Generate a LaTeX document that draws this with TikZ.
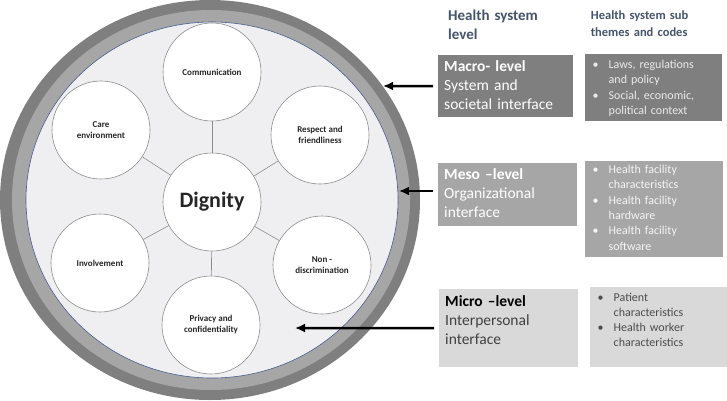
\documentclass[tikz,border=0pt]{standalone}
\usepackage{fontspec}
\setmainfont{Carlito}
\usetikzlibrary{arrows.meta,positioning}
\definecolor{ringdark}{HTML}{7F7F7F}
\definecolor{ringlight}{HTML}{A6A6A6}
\definecolor{innerfill}{HTML}{EFEFF1}
\definecolor{innerline}{HTML}{4A5C8C}
\definecolor{circline}{HTML}{8C8C8C}
\definecolor{headblue}{HTML}{44546A}
\definecolor{macrofill}{HTML}{7F7F7F}
\definecolor{mesofill}{HTML}{A6A6A6}
\definecolor{microfill}{HTML}{D9D9D9}
\newcommand{\codebul}{\makebox[17.5pt][l]{\hspace{1.5pt}\textbullet}}
\newcommand{\codeind}{\hspace*{17.5pt}}

\begin{document}
\begin{tikzpicture}[
    x=1pt, y=-1pt,
    theme/.style={circle, draw=circline, fill=white, line width=0.6pt, minimum size=98pt, inner sep=0pt, align=center, text=black!85, font=\fontsize{9}{11}\selectfont\bfseries},
    core/.style={theme, font=\fontsize{22}{26}\selectfont\bfseries},
    spoke/.style={draw=circline, line width=0.6pt},
    header/.style={anchor=base west, inner sep=0pt, text width=140pt, align=left, text=headblue},
    levelbox/.style={anchor=north west, inner xsep=6pt, inner ysep=0pt, align=left, font=\fontsize{15.5}{19}\selectfont},
    codebox/.style={anchor=north west, inner xsep=6pt, inner ysep=0pt, align=left, font=\fontsize{12}{15.3}\selectfont},
    pointer/.style={-{Latex[length=10pt,width=9pt]}, line width=2.5pt, shorten <=5pt}
]
\useasboundingbox (0,0) rectangle (727,400);

% Rings
\fill[ringdark] (210,200) ellipse [x radius=210, y radius=200];
\fill[ringlight] (211,200) ellipse [x radius=199, y radius=190];
\filldraw[fill=innerfill, draw=innerline, line width=0.6pt] (212,200) ellipse [x radius=186, y radius=178];

% Themes
\node[core] (dignity) at (212,202) {Dignity};
\node[theme] (comm) at (212,72) {Communication};
\node[theme] (care) at (101,130) {Care\\environment};
\node[theme] (respect) at (320,135) {Respect and\\friendliness};
\node[theme] (involve) at (100,263) {Involvement};
\node[theme] (nondisc) at (322,265) {Non -\\discrimination};
\node[theme] (privacy) at (211,325) {Privacy and\\confidentiality};

% Spokes
\foreach \t in {comm,care,respect,involve,nondisc,privacy}
    \draw[spoke] (dignity) -- (\t);

% Headers
\node[header, font=\fontsize{15}{18.3}\selectfont\bfseries] (headlevel) at (448,20.7) {Health system\\level};
\node[header, font=\fontsize{12.5}{17.7}\selectfont\bfseries] (headcode) at (590.7,19) {Health system sub\\themes and codes};

% Levels
\node[levelbox, fill=macrofill, text=white, text width=123pt, text height=16.7pt, text depth=45.3pt] (macro) at (438,55)
    {\textbf{Macro- level}\\System and\\societal interface};
\node[levelbox, fill=mesofill, text=white, text width=127pt, text height=16.3pt, text depth=46.7pt] (meso) at (438,163)
    {\textbf{Meso –level}\\Organizational\\interface};
\node[levelbox, fill=microfill, text=black!75, text width=127pt, text height=17.7pt, text depth=60.3pt] (micro) at (439,289)
    {\textcolor{black}{\textbf{Micro –level}}\\Interpersonal\\interface};

% Codes
\node[codebox, fill=macrofill, text=black!8, text width=125pt, text height=14.3pt, text depth=52.7pt] (macrocode) at (585,54)
    {\codebul Laws, regulations\\\codeind and policy\\\codebul Social, economic,\\\codeind political context};
\node[codebox, fill=mesofill, text=black!4, text width=126pt, text height=12.3pt, text depth=83.7pt] (mesocode) at (585,161)
    {\codebul Health facility\\\codeind characteristics\\\codebul Health facility\\\codeind hardware\\\codebul Health facility\\\codeind software};
\node[codebox, fill=microfill, text=black!70, text width=125pt, text height=14.7pt, text depth=65.3pt, font=\fontsize{12}{14.7}\selectfont] (microcode) at (590,287)
    {\codebul Patient\\\codeind characteristics\\\codebul Health worker\\\codeind characteristics};

% Arrows
\coordinate (tipmacro) at (383,86);
\coordinate (tipmeso) at (399,191);
\coordinate (tipmicro) at (295,328);
\draw[pointer] (macro) -- (tipmacro);
\draw[pointer] (meso.west |- tipmeso) -- (tipmeso);
\draw[pointer] (micro) -- (tipmicro);

\end{tikzpicture}
\end{document}
